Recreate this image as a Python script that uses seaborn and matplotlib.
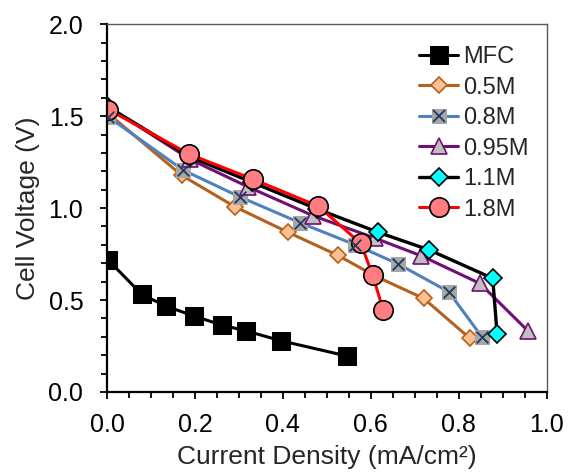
import matplotlib

matplotlib.use("Agg")

import matplotlib.pyplot as plt
import numpy as np
import pandas as pd
import seaborn as sns
from matplotlib.legend_handler import HandlerTuple
from matplotlib.ticker import FormatStrFormatter, MultipleLocator

sns.set_theme(style="ticks")
plt.rcParams["font.family"] = ["Liberation Sans", "DejaVu Sans"]

# values (current density mA/cm2, cell voltage V)
mfc_x = [0.003, 0.079, 0.134, 0.198, 0.261, 0.315, 0.395, 0.545]
mfc_y = [0.717, 0.531, 0.467, 0.413, 0.364, 0.333, 0.279, 0.196]

m05_x = [0.0, 0.170, 0.291, 0.412, 0.525, 0.610, 0.720, 0.825]
m05_y = [1.52, 1.178, 1.007, 0.868, 0.743, 0.630, 0.509, 0.292]

m08_x = [0.003, 0.173, 0.302, 0.439, 0.565, 0.662, 0.777, 0.852]
m08_y = [1.496, 1.207, 1.061, 0.920, 0.800, 0.696, 0.545, 0.301]

m095_x = [0.003, 0.189, 0.321, 0.469, 0.609, 0.715, 0.848, 0.958]
m095_y = [1.55, 1.265, 1.115, 0.958, 0.837, 0.740, 0.590, 0.330]

m11_x = [0.003, 0.188, 0.330, 0.478, 0.617, 0.733, 0.877, 0.887]
m11_y = [1.55, 1.280, 1.140, 0.995, 0.868, 0.772, 0.618, 0.315]

m18_x = [0.003, 0.187, 0.333, 0.480, 0.577, 0.604, 0.628]
m18_y = [1.536, 1.293, 1.156, 1.011, 0.808, 0.636, 0.446]

labels = ["MFC", "0.5M", "0.8M", "0.95M", "1.1M", "1.8M"]


def frame(xs, ys):
    return pd.DataFrame({"x": xs, "y": ys})


fig = plt.figure(figsize=(5.69, 4.74), dpi=100)
ax = fig.add_axes([0.188, 0.173, 0.773, 0.776])

h_mfc = sns.lineplot(data=frame(mfc_x, mfc_y), x="x", y="y", ax=ax, sort=False,
                     color="black", lw=2.2, marker="s", ms=12.5, mfc="black", mec="black").lines[-1]
h05 = sns.lineplot(data=frame(m05_x, m05_y), x="x", y="y", ax=ax, sort=False,
                   color="#B5601C", lw=2.2, marker="D", ms=8.5, mfc="#FAC090", mec="#B5601C", mew=1.2).lines[-1]
h08 = sns.lineplot(data=frame(m08_x, m08_y), x="x", y="y", ax=ax, sort=False,
                   color="#4F81BD", lw=2.2, marker="s", ms=9.5, mfc="#A6A6A6", mec="#A6A6A6").lines[-1]
sns.scatterplot(data=frame(m08_x, m08_y), x="x", y="y", ax=ax, marker="x",
                s=70, color="#1F3A5F", linewidth=1.3, zorder=3)
h08x = plt.Line2D([], [], ls="none", marker="x", ms=8.5, mec="#1F3A5F", mew=1.3)
h095 = sns.lineplot(data=frame(m095_x, m095_y), x="x", y="y", ax=ax, sort=False,
                    color="#700F74", lw=2.2, marker="^", ms=12, mfc="#BFBFBF", mec="#700F74", mew=1.2).lines[-1]
h11 = sns.lineplot(data=frame(m11_x, m11_y), x="x", y="y", ax=ax, sort=False,
                   color="black", lw=2.4, marker="D", ms=9.5, mfc="#00FFFF", mec="black", mew=1.2).lines[-1]
h18 = sns.lineplot(data=frame(m18_x, m18_y), x="x", y="y", ax=ax, sort=False,
                   color="#FF0000", lw=2.2, marker="o", ms=14, mfc="#FF7C80", mec="black", mew=1.2).lines[-1]

ax.legend([h_mfc, h05, (h08, h08x), h095, h11, h18], labels,
          handler_map={tuple: HandlerTuple(ndivide=1, pad=0)},
          loc="upper left", bbox_to_anchor=(0.71, 0.94), frameon=False,
          fontsize=17, handlelength=1.65, handletextpad=0.2, labelspacing=0.36,
          borderpad=0, borderaxespad=0)

ax.set_xlim(0, 1.0)
ax.set_ylim(0, 2.0)
ax.xaxis.set_major_locator(MultipleLocator(0.2))
ax.xaxis.set_minor_locator(MultipleLocator(0.05))
ax.yaxis.set_major_locator(MultipleLocator(0.5))
ax.yaxis.set_minor_locator(MultipleLocator(0.1))
ax.xaxis.set_major_formatter(FormatStrFormatter("%.1f"))
ax.yaxis.set_major_formatter(FormatStrFormatter("%.1f"))
ax.tick_params(which="major", direction="out", length=5, width=1.3, colors="black",
               labelsize=18)
ax.tick_params(which="minor", direction="out", length=4, width=1.3, colors="black")
ax.tick_params(axis="x", which="major", pad=10)
ax.tick_params(axis="y", which="major", pad=12)

for side in ["left", "bottom"]:
    ax.spines[side].set_color("black")
    ax.spines[side].set_linewidth(1.6)
for side in ["top", "right"]:
    ax.spines[side].set_visible(True)
    ax.spines[side].set_color("#595959")
    ax.spines[side].set_linewidth(1.0)

ax.set_xlabel("Current Density (mA/cm²)", fontsize=19, labelpad=6)
ax.set_ylabel("Cell Voltage (V)", fontsize=19, labelpad=6)

fig.savefig("out.png", dpi=100)
